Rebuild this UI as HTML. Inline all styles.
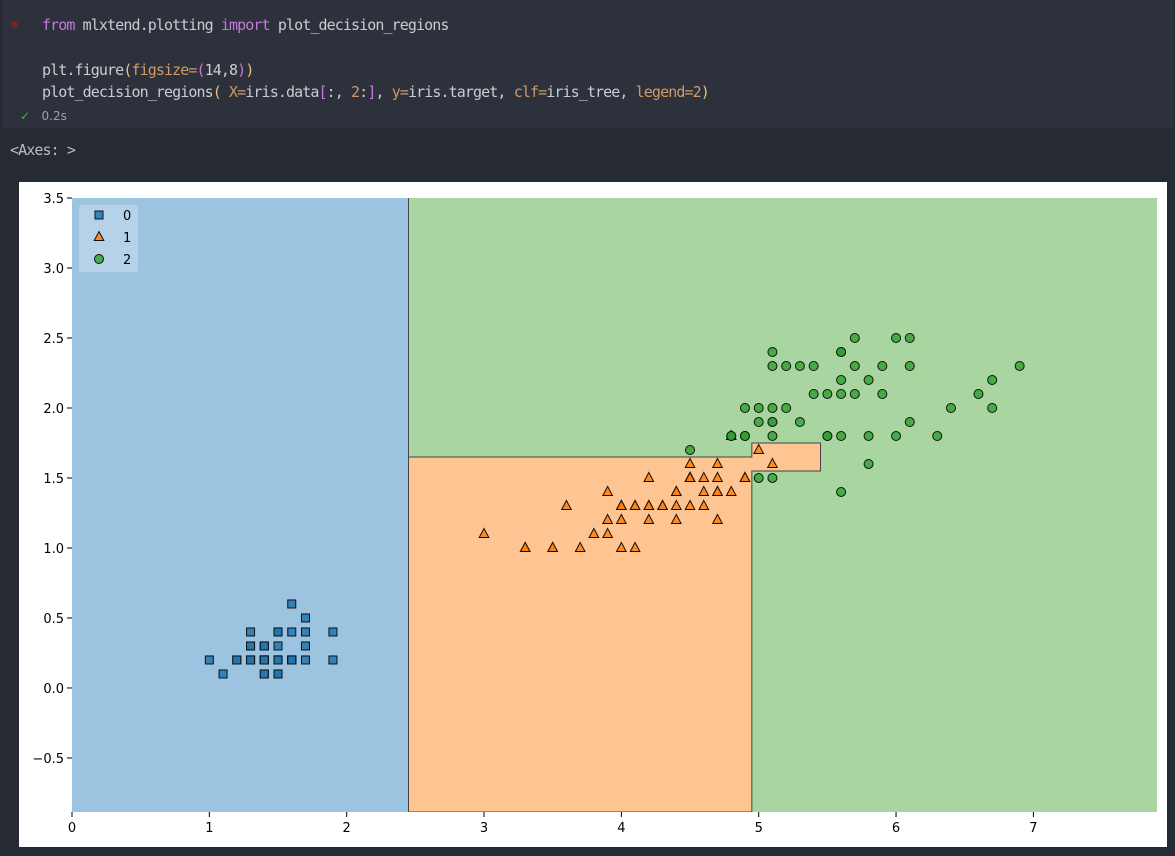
<!DOCTYPE html>
<html><head><meta charset="utf-8">
<style>
body{margin:0;width:1175px;height:856px;background:#262a33;overflow:hidden;font-family:"Liberation Mono","DejaVu Sans Mono",monospace;}
#cell{position:absolute;left:2px;top:0;width:1171px;height:128px;background:#2d313b;}
.code{position:absolute;left:40px;font-size:15px;color:#c9ccd2;white-space:pre;font-family:"DejaVu Sans Mono","Liberation Mono",monospace;letter-spacing:-0.9px}
.kw{color:#c678dd}.or{color:#d19a66}.yl{color:#e5c07b}.pk{color:#c678dd}
#fig{position:absolute;left:19px;top:182px;width:1148px;height:665px;background:#fff;}
</style></head><body>
<div id="cell">
<div style="position:absolute;left:9px;top:21px;width:7px;height:7px;border-radius:50%;background:#7a2323"></div>
<div class="code" style="top:16px"><span class="kw">from</span> mlxtend.plotting <span class="kw">import</span> plot_decision_regions</div>
<div class="code" style="top:61px">plt.figure<span class="yl">(</span><span class="or">figsize=</span><span class="pk">(</span>14,8<span class="pk">)</span><span class="yl">)</span></div>
<div class="code" style="top:83px">plot_decision_regions<span class="yl">(</span> <span class="or">X=</span>iris.data<span class="pk">[</span>:, <span class="or">2</span>:<span class="pk">]</span>, <span class="or">y=</span>iris.target, <span class="or">clf=</span>iris_tree, <span class="or">legend=</span><span class="or">2</span><span class="yl">)</span></div>
<div style="position:absolute;left:18px;top:109px;font-size:12px;color:#9aa0a8;font-family:'DejaVu Sans',sans-serif"><span style="color:#4caf50">✓</span>&nbsp;&nbsp;&nbsp;0.2s</div>
</div>
<div class="code" style="top:141px;left:10px;color:#b8bcc4">&lt;Axes: &gt;</div>
<div id="fig"><svg id="svg" width="1148" height="665" xmlns="http://www.w3.org/2000/svg" font-family="'DejaVu Sans','Liberation Sans',sans-serif"></svg></div>
<script>
const petalLength0=[1.4,1.4,1.3,1.5,1.4,1.7,1.4,1.5,1.4,1.5,1.5,1.6,1.4,1.1,1.2,1.5,1.3,1.4,1.7,1.5,1.7,1.5,1.0,1.7,1.9,1.6,1.6,1.5,1.4,1.6,1.6,1.5,1.5,1.4,1.5,1.2,1.3,1.4,1.3,1.5,1.3,1.3,1.3,1.6,1.9,1.4,1.6,1.4,1.5,1.4];
const petalWidth0=[0.2,0.2,0.2,0.2,0.2,0.4,0.3,0.2,0.2,0.1,0.2,0.2,0.1,0.1,0.2,0.4,0.4,0.3,0.3,0.3,0.2,0.4,0.2,0.5,0.2,0.2,0.4,0.2,0.2,0.2,0.2,0.4,0.1,0.2,0.2,0.2,0.2,0.1,0.2,0.2,0.3,0.3,0.2,0.6,0.4,0.3,0.2,0.2,0.2,0.2];
const petalLength1=[4.7,4.5,4.9,4.0,4.6,4.5,4.7,3.3,4.6,3.9,3.5,4.2,4.0,4.7,3.6,4.4,4.5,4.1,4.5,3.9,4.8,4.0,4.9,4.7,4.3,4.4,4.8,5.0,4.5,3.5,3.8,3.7,3.9,5.1,4.5,4.5,4.7,4.4,4.1,4.0,4.4,4.6,4.0,3.3,4.2,4.2,4.2,4.3,3.0,4.1];
const petalWidth1=[1.4,1.5,1.5,1.3,1.5,1.3,1.6,1.0,1.3,1.4,1.0,1.5,1.0,1.4,1.3,1.4,1.5,1.0,1.5,1.1,1.8,1.3,1.5,1.2,1.3,1.4,1.4,1.7,1.5,1.0,1.1,1.0,1.2,1.6,1.5,1.6,1.5,1.3,1.3,1.3,1.2,1.4,1.2,1.0,1.3,1.2,1.3,1.3,1.1,1.3];
const petalLength2=[6.0,5.1,5.9,5.6,5.8,6.6,4.5,6.3,5.8,6.1,5.1,5.3,5.5,5.0,5.1,5.3,5.5,6.7,6.9,5.0,5.7,4.9,6.7,4.9,5.7,6.0,4.8,4.9,5.6,5.8,6.1,6.4,5.6,5.1,5.6,6.1,5.6,5.5,4.8,5.4,5.6,5.1,5.1,5.9,5.7,5.2,5.0,5.2,5.4,5.1];
const petalWidth2=[2.5,1.9,2.1,1.8,2.2,2.1,1.7,1.8,1.8,2.5,2.0,1.9,2.1,2.0,2.4,2.3,1.8,2.2,2.3,1.5,2.3,2.0,2.0,1.8,2.1,1.8,1.8,1.8,2.1,1.6,1.9,2.0,2.2,1.5,1.4,2.3,2.4,1.8,1.8,2.1,2.4,2.3,1.9,2.3,2.5,2.3,1.9,2.0,2.3,1.8];
const xTicks=[0,1,2,3,4,5,6,7];
const yTicks=[-0.5,0.0,0.5,1.0,1.5,2.0,2.5,3.0,3.5];
const yTickLabels=["\u22120.5","0.0","0.5","1.0","1.5","2.0","2.5","3.0","3.5"];
const classLabels=["0","1","2"];
const xSplit1=2.45, xSplit2=4.95, xSplit3=5.45, ySplit1=1.65, ySplit2=1.75, ySplit3=1.55;
const xMin=0, xMax=7.9, yMin=-0.886, yMax=3.5;

const svg=document.getElementById('svg');
const NS='http://www.w3.org/2000/svg';
const L=53,R=1138,T=16,B=630;
const sx=v=>L+(v-xMin)/(xMax-xMin)*(R-L);
const sy=v=>B-(v-yMin)/(yMax-yMin)*(B-T);
function mk(tag,attrs){const e=document.createElementNS(NS,tag);for(const k in attrs)e.setAttribute(k,attrs[k]);svg.appendChild(e);return e;}
const cB='#9cc3e0',cO='#fec593',cG='#a9d5a0';
let e;
e=mk('rect',{x:sx(xMin),y:sy(yMax),width:sx(xSplit1)-sx(xMin),height:sy(yMin)-sy(yMax),fill:cB});


e=mk('rect',{x:sx(xSplit1),y:sy(yMax),width:sx(xMax)-sx(xSplit1),height:sy(yMin)-sy(yMax),fill:cG});


const op=[[xSplit1,yMin],[xSplit1,ySplit1],[xSplit2,ySplit1],[xSplit2,ySplit2],[xSplit3,ySplit2],[xSplit3,ySplit3],[xSplit2,ySplit3],[xSplit2,yMin]];
e=mk('polygon',{points:op.map(p=>sx(p[0])+','+sy(p[1])).join(' '),fill:cO,stroke:'#444','stroke-width':1});


e=mk('line',{x1:sx(xSplit1),y1:sy(yMax),x2:sx(xSplit1),y2:sy(yMin),stroke:'#444','stroke-width':1});


e=mk('rect',{x:sx(xMin),y:sy(yMin),width:sx(xMax)-sx(xMin),height:2,fill:'#fff'});
function marker(cls,x,y){
  let el;const st={'stroke':'#111','stroke-width':1};
  if(cls===0){el=mk('rect',{x:x-4,y:y-4,width:8,height:8,fill:'#1f77b4','fill-opacity':0.85,...st});}
  else if(cls===1){el=mk('polygon',{points:`${x},${y-5.5} ${x+4.8},${y+3.5} ${x-4.8},${y+3.5}`,fill:'#ff7f0e','fill-opacity':0.85,...st});}
  else {el=mk('circle',{cx:x,cy:y,r:4.5,fill:'#2ca02c','fill-opacity':0.8,...st});}
  return el;
}
const sets=[[petalLength0,petalWidth0],[petalLength1,petalWidth1],[petalLength2,petalWidth2]];
sets.forEach((s,c)=>{s[0].forEach((v,i)=>{
  const el=marker(c,sx(v),sy(s[1][i]));
  
  
});});
xTicks.forEach(t=>{
  const l=mk('line',{x1:sx(t),y1:B,x2:sx(t),y2:B+5,stroke:'#000','stroke-width':1});
  const tx=mk('text',{x:sx(t),y:B+20,'font-size':13,'text-anchor':'middle',fill:'#000'});tx.textContent=t;
  
  
});
yTicks.forEach((t,i)=>{
  const l=mk('line',{x1:L-5,y1:sy(t),x2:L,y2:sy(t),stroke:'#000','stroke-width':1});
  const tx=mk('text',{x:L-8,y:sy(t)+5,'font-size':13,'text-anchor':'end',fill:'#000'});tx.textContent=yTickLabels[i];
  
  
});
e=mk('rect',{x:60,y:23,width:59,height:67,rx:3,fill:'#fff','fill-opacity':0.25,stroke:'#ccc','stroke-opacity':0.3});


classLabels.forEach((lab,c)=>{
  const y=33+c*22;
  const m=marker(c,80,y);
  
  
  const tx=mk('text',{x:104,y:y+5,'font-size':13,fill:'#000'});tx.textContent=lab;
  
  
});
</script>
</body></html>
